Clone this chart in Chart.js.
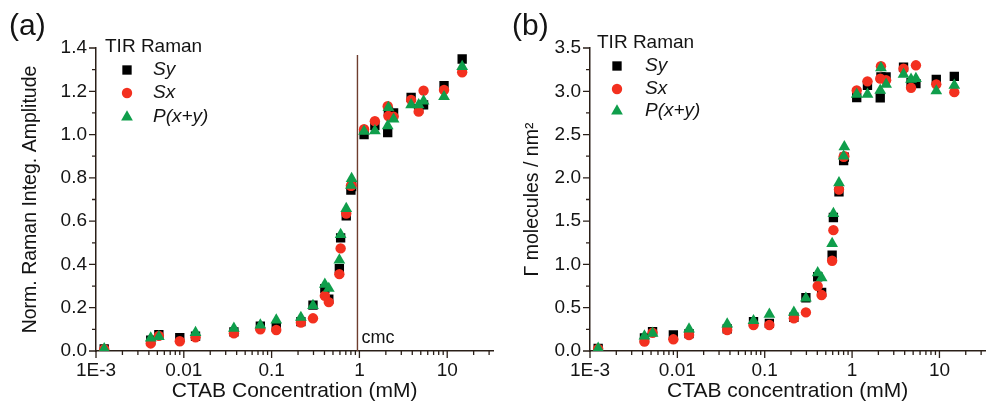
<!DOCTYPE html>
<html>
<head>
<meta charset="utf-8">
<script src="https://cdn.jsdelivr.net/npm/chart.js@4.4.1/dist/chart.umd.min.js"></script>
<style>
  html, body { margin: 0; padding: 0; background: #fff; }
  body { width: 992px; height: 402px; position: relative; overflow: hidden; }
  canvas { position: absolute; top: 0; }
  #chartA { left: 0; }
  #chartB { left: 492px; }
</style>
</head>
<body>
<canvas id="chartA" width="500" height="402"></canvas>
<canvas id="chartB" width="500" height="402"></canvas>
<script>
// CTAB concentration (mM), same for both panels
const concentracion = [0.00124, 0.0042, 0.0052, 0.009, 0.0136, 0.0372, 0.0744, 0.113, 0.2155, 0.296,
  0.404, 0.448, 0.591, 0.611, 0.708, 0.800, 0.815, 1.13, 1.5, 2.10, 2.14, 2.45, 3.88, 4.73, 5.38, 9.2, 14.8];

// (a) normalized Raman integrated amplitude
const ampSy = [0.01, 0.05, 0.075, 0.062, 0.068, 0.088, 0.115, 0.11, 0.136, 0.212,
  0.288, 0.24, 0.38, 0.523, 0.625, 0.743, 0.76, 1.0, 1.042, 1.009, 1.106, 1.10, 1.172, 1.12, 1.137, 1.226, 1.349];
const ampSx = [0.008, 0.035, 0.07, 0.045, 0.063, 0.082, 0.10, 0.097, 0.131, 0.151,
  0.255, 0.226, 0.355, 0.474, 0.635, 0.763, 0.765, 1.025, 1.062, 1.131, 1.086, 1.083, 1.16, 1.106, 1.203, 1.206, 1.288];
const ampP = [0.01, 0.06, 0.066, null, 0.085, 0.105, 0.12, 0.143, 0.155, 0.21,
  0.308, 0.289, 0.42, 0.538, 0.658, 0.765, 0.797, 1.015, 1.017, 1.04, 1.125, 1.071, 1.137, 1.137, 1.155, 1.175, 1.314];

// (b) surface excess, molecules / nm^2
const gammaSy = [0.03, 0.15, 0.223, 0.185, 0.20, 0.255, 0.338, 0.319, 0.39, 0.615,
  0.858, 0.677, 1.108, 1.542, 1.838, 2.20, 2.24, 2.927, 3.07, 2.923, 3.165, 3.165, 3.28, 3.10, 3.088, 3.138, 3.173];
const gammaSx = [0.025, 0.108, 0.21, 0.135, 0.185, 0.242, 0.30, 0.30, 0.377, 0.446,
  0.75, 0.646, 1.042, 1.396, 1.865, 2.242, 2.25, 3.01, 3.115, 3.146, 3.29, 3.127, 3.26, 3.04, 3.30, 3.08, 2.99];
const gammaP = [0.03, 0.173, 0.204, null, 0.254, 0.312, 0.35, 0.423, 0.446, 0.61,
  0.904, 0.846, 1.242, 1.588, 1.942, 2.25, 2.358, 2.965, 2.965, 3.01, 3.27, 3.08, 3.196, 3.138, 3.146, 3.004, 3.07];

const xTicks = [0.001, 0.01, 0.1, 1, 10];
const ampTicks = [0, 0.2, 0.4, 0.6, 0.8, 1.0, 1.2, 1.4];
const gammaTicks = [0, 0.5, 1.0, 1.5, 2.0, 2.5, 3.0, 3.5];
const xMin = 0.001;
const xMax = 33.4;
const cmc = 0.95;
const cmcTop = 1.368;

const colores = { sy: '#000000', sx: '#f3301f', p: '#0f9e4b' };
const ejeColor = '#2a1f18';
const textoColor = '#141414';
const fuente = '"Liberation Sans", Arial, sans-serif';

const series = [
  { nombre: 'Sy', color: colores.sy, estilo: 'rect', radio: 6.6, orden: 3 },
  { nombre: 'Sx', color: colores.sx, estilo: 'circle', radio: 5.2, orden: 2 },
  { nombre: 'P(x+y)', color: colores.p, estilo: 'triangle', radio: 6.8, orden: 1 }
];

const puntos = (ys) => concentracion
  .map((c, i) => ({ x: c, y: ys[i] }))
  .filter(p => p.y !== null);

// Tick marks, panel letter, legend and cmc label
const decoracion = {
  id: 'decoracion',
  afterDraw(chart, args, opts) {
    const { ctx, chartArea: area, scales: { x, y } } = chart;
    ctx.save();
    ctx.strokeStyle = ejeColor;
    ctx.lineWidth = 1.3;
    ctx.beginPath();
    for (let d = -3; d <= 1; d++) {
      for (let m = 1; m <= 9; m++) {
        const v = m * Math.pow(10, d);
        if (v > x.max) break;
        const px = x.getPixelForValue(v);
        const len = m === 1 ? 7 : 4;
        ctx.moveTo(px, area.bottom);
        ctx.lineTo(px, area.bottom + len);
      }
    }
    const paso = opts.yStep / 2;
    for (let i = 0; i * paso <= y.max + 1e-9; i++) {
      const py = y.getPixelForValue(i * paso);
      const len = i % 2 === 0 ? 7 : 4;
      ctx.moveTo(area.left - len, py);
      ctx.lineTo(area.left, py);
    }
    ctx.stroke();

    ctx.fillStyle = textoColor;
    ctx.textAlign = 'left';
    ctx.textBaseline = 'middle';
    ctx.font = '30px ' + fuente;
    ctx.fillText(opts.letra, opts.letraX, 27);

    // legend
    const lg = opts.leyenda;
    ctx.font = '19px ' + fuente;
    ctx.fillText('TIR Raman', lg.x, lg.yTitulo);
    series.forEach((s, i) => {
      const yy = lg.filas[i];
      ctx.fillStyle = s.color;
      ctx.strokeStyle = s.color;
      Chart.helpers.drawPoint(ctx, { pointStyle: s.estilo, radius: s.radio, rotation: 0, borderWidth: 0 }, lg.xSimbolo, yy);
      ctx.fillStyle = textoColor;
      ctx.font = 'italic 19px ' + fuente;
      ctx.fillText(s.nombre, lg.xTexto, yy);
    });

    if (opts.cmc) {
      ctx.font = '18px ' + fuente;
      ctx.fillText('cmc', x.getPixelForValue(cmc) + 4, 338);
    }
    ctx.restore();
  }
};

function crearPanel(id, p) {
  const datasets = series.map((s, i) => ({
    label: s.nombre,
    data: puntos(p.valores[i]),
    pointStyle: s.estilo,
    pointRadius: s.radio,
    backgroundColor: s.color,
    borderColor: s.color,
    pointBorderWidth: 0,
    order: s.orden
  }));
  if (p.cmc) {
    datasets.push({
      label: 'cmc',
      data: [{ x: cmc, y: 0 }, { x: cmc, y: cmcTop }],
      showLine: true,
      pointRadius: 0,
      borderColor: '#6e3d2e',
      borderWidth: 1.4,
      order: 5
    });
  }

  return new Chart(document.getElementById(id), {
    type: 'scatter',
    data: { datasets },
    options: {
      responsive: false,
      animation: false,
      layout: { padding: { left: 0, right: p.derecha, top: 48, bottom: 0 } },
      plugins: {
        legend: { display: false },
        tooltip: { enabled: false },
        decoracion: p.deco
      },
      scales: {
        x: {
          type: 'logarithmic',
          min: xMin,
          max: xMax,
          afterBuildTicks: (scale) => { scale.ticks = xTicks.map(v => ({ value: v })); },
          afterFit: (scale) => { scale.height = 51; },
          grid: { drawOnChartArea: false, drawTicks: false },
          border: { color: ejeColor, width: 1.5 },
          ticks: {
            autoSkip: false,
            maxRotation: 0,
            padding: 8,
            color: textoColor,
            font: { family: fuente, size: 19 },
            callback: (v) => (v === 0.001 ? '1E-3' : String(v))
          },
          title: {
            display: true,
            text: p.tituloX,
            color: textoColor,
            padding: { top: 0, bottom: 0 },
            font: { family: fuente, size: 21, lineHeight: 1 }
          }
        },
        y: {
          min: 0,
          max: p.yMax,
          afterBuildTicks: (scale) => { scale.ticks = p.yTicks.map(v => ({ value: v })); },
          afterFit: (scale) => { scale.width = p.anchoY; },
          grid: { drawOnChartArea: false, drawTicks: false },
          border: { color: ejeColor, width: 1.5 },
          ticks: {
            padding: 9,
            color: textoColor,
            font: { family: fuente, size: 19 },
            callback: (v) => v.toFixed(1)
          },
          title: {
            display: true,
            text: p.tituloY,
            color: textoColor,
            padding: { top: p.tituloYPad, bottom: 0 },
            font: { family: fuente, size: 19.5, lineHeight: 1 }
          }
        }
      }
    },
    plugins: [decoracion]
  });
}

crearPanel('chartA', {
  valores: [ampSy, ampSx, ampP],
  yMax: 1.4,
  yTicks: ampTicks,
  anchoY: 96,
  derecha: 2,
  tituloX: 'CTAB Concentration (mM)',
  tituloY: 'Norm. Raman Integ. Amplitude',
  tituloYPad: 21,
  cmc: true,
  deco: {
    letra: '(a)', letraX: 9, yStep: 0.2, cmc: true,
    leyenda: { x: 105, yTitulo: 47, xSimbolo: 127, xTexto: 153, filas: [70, 93, 117] }
  }
});

crearPanel('chartB', {
  valores: [gammaSy, gammaSx, gammaP],
  yMax: 3.5,
  yTicks: gammaTicks,
  anchoY: 98,
  derecha: 0,
  tituloX: 'CTAB concentration (mM)',
  tituloY: 'Γ molecules / nm²',
  tituloYPad: 31,
  cmc: false,
  deco: {
    letra: '(b)', letraX: 20, yStep: 0.5, cmc: false,
    leyenda: { x: 105, yTitulo: 43, xSimbolo: 125, xTexto: 153, filas: [66, 89, 111] }
  }
});
</script>
</body>
</html>
